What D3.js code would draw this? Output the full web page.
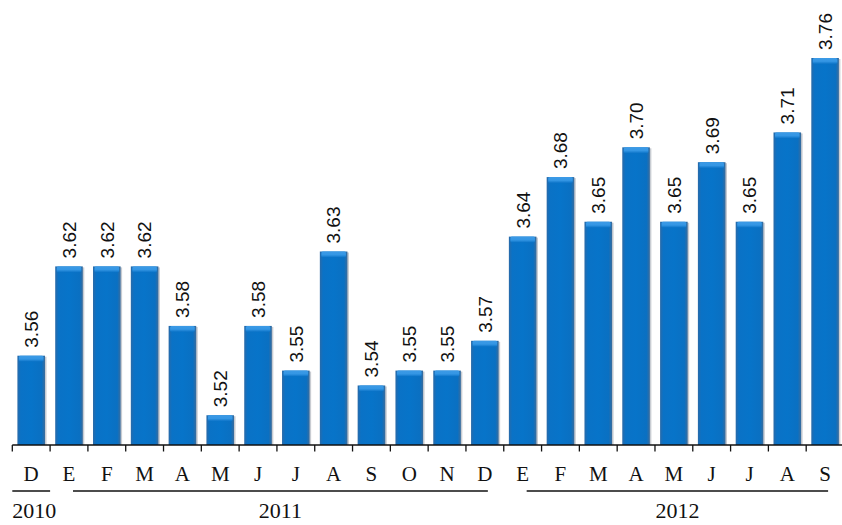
<!DOCTYPE html>
<html>
<head>
<meta charset="utf-8">
<script src="https://cdn.jsdelivr.net/npm/d3@7/dist/d3.min.js"></script>
<style>
  html, body { margin: 0; padding: 0; background: #ffffff; }
  svg { display: block; }
  .value { font-family: "Liberation Sans", Arial, Helvetica, sans-serif; font-size: 19px; fill: #111; }
  .month, .year { font-family: "Liberation Serif", "Times New Roman", Times, serif; fill: #111; }
  .month { font-size: 21px; }
  .year { font-size: 22px; }
</style>
</head>
<body>
<svg id="chart" width="842" height="525"></svg>
<script>
// Monthly values, December 2010 to September 2012
const months = ["D", "E", "F", "M", "A", "M", "J", "J", "A", "S", "O", "N", "D",
                "E", "F", "M", "A", "M", "J", "J", "A", "S"];
const values = [3.56, 3.62, 3.62, 3.62, 3.58, 3.52, 3.58, 3.55, 3.63, 3.54, 3.55, 3.55, 3.57,
                3.64, 3.68, 3.65, 3.70, 3.65, 3.69, 3.65, 3.71, 3.76];
const years = ["2010", "2011", "2012"];
const yearStart = [0, 1, 13];   // first month index of each year
const yearEnd = [0, 12, 21];    // last month index of each year

const svg = d3.select("#chart");
const ids = d3.range(values.length);

const x = d3.scaleBand().domain(ids).range([12.3, 844]).paddingInner(0.27).paddingOuter(0.135);
const y = d3.scaleLinear().domain([3.50, 3.76]).range([445, 58]);
const step = x.step();
const bandStart = i => 12.3 + step * i;

// Gradients for the bars
const defs = svg.append("defs");
const side = defs.append("linearGradient").attr("id", "barSide").attr("x1", 0).attr("x2", 1).attr("y1", 0).attr("y2", 0);
side.append("stop").attr("offset", "0%").attr("stop-color", "#2a6aa8");
side.append("stop").attr("offset", "12%").attr("stop-color", "#0a72c6");
side.append("stop").attr("offset", "50%").attr("stop-color", "#0774c9");
side.append("stop").attr("offset", "88%").attr("stop-color", "#0a70c2");
side.append("stop").attr("offset", "100%").attr("stop-color", "#3a6c9c");
const cap = defs.append("linearGradient").attr("id", "barCap").attr("x1", 0).attr("x2", 0).attr("y1", 0).attr("y2", 1);
cap.append("stop").attr("offset", "0%").attr("stop-color", "#3c9ae6");
cap.append("stop").attr("offset", "55%").attr("stop-color", "#3496e4");
cap.append("stop").attr("offset", "100%").attr("stop-color", "#0a72c6");
const shadow = defs.append("filter").attr("id", "soft").attr("x", "-20%").attr("y", "-5%").attr("width", "140%").attr("height", "110%");
shadow.append("feGaussianBlur").attr("stdDeviation", 0.6);

// Bars
const bars = svg.append("g").selectAll("g").data(ids).join("g");
bars.append("rect")
  .attr("x", i => x(i) + 1.5)
  .attr("y", i => y(values[i]) + 1)
  .attr("width", x.bandwidth())
  .attr("height", i => 445 - y(values[i]) - 1)
  .attr("fill", "#c8ccd2")
  .attr("filter", "url(#soft)");
bars.append("rect")
  .attr("x", i => x(i))
  .attr("y", i => y(values[i]))
  .attr("width", x.bandwidth())
  .attr("height", i => 445 - y(values[i]))
  .attr("fill", "url(#barSide)");
bars.append("rect")
  .attr("x", i => x(i) + 1.5)
  .attr("y", i => y(values[i]))
  .attr("width", x.bandwidth() - 3)
  .attr("height", 6)
  .attr("rx", 1.5)
  .attr("fill", "url(#barCap)");

// Value labels, rotated
svg.append("g").selectAll("text").data(ids).join("text")
  .attr("class", "value")
  .attr("transform", i => `translate(${x(i) + x.bandwidth() / 2},${y(values[i]) - 8}) rotate(-90)`)
  .attr("dy", "0.36em")
  .attr("text-anchor", "start")
  .text(i => values[i].toFixed(2));

// Axis line and ticks
const axis = d3.axisBottom(x).tickSize(0).tickFormat(i => months[i]).tickPadding(0);
const ax = svg.append("g").attr("transform", "translate(0,445)").call(axis);
ax.select(".domain").remove();
ax.attr("font-family", null).attr("font-size", null);
ax.selectAll("text")
  .attr("class", "month")
  .attr("y", 36)
  .attr("dy", 0)
  .attr("fill", null);
ax.append("line").attr("x1", 12.3).attr("x2", 844).attr("y1", 0).attr("y2", 0)
  .attr("stroke", "#111").attr("stroke-width", 1.5);
ax.selectAll("line.tk").data(d3.range(values.length + 1)).join("line")
  .attr("class", "tk")
  .attr("x1", i => bandStart(i)).attr("x2", i => bandStart(i))
  .attr("y1", 0).attr("y2", 6.5)
  .attr("stroke", "#111").attr("stroke-width", 1.3);

// Year brackets and labels
const yearLine = k => {
  if (k === 0) return [bandStart(0), bandStart(1)];
  return [x(yearStart[k]) + x.bandwidth() / 2 + 4, x(yearEnd[k]) + x.bandwidth() / 2 + 3];
};
const yg = svg.append("g");
years.forEach((yr, k) => {
  const [a, b] = yearLine(k);
  yg.append("line").attr("x1", a).attr("x2", b).attr("y1", 491).attr("y2", 491)
    .attr("stroke", "#111").attr("stroke-width", 1.5);
  yg.append("text")
    .attr("class", "year")
    .attr("x", k === 0 ? a : (a + b) / 2)
    .attr("y", 518)
    .attr("text-anchor", k === 0 ? "start" : "middle")
    .text(yr);
});
</script>
</body>
</html>
